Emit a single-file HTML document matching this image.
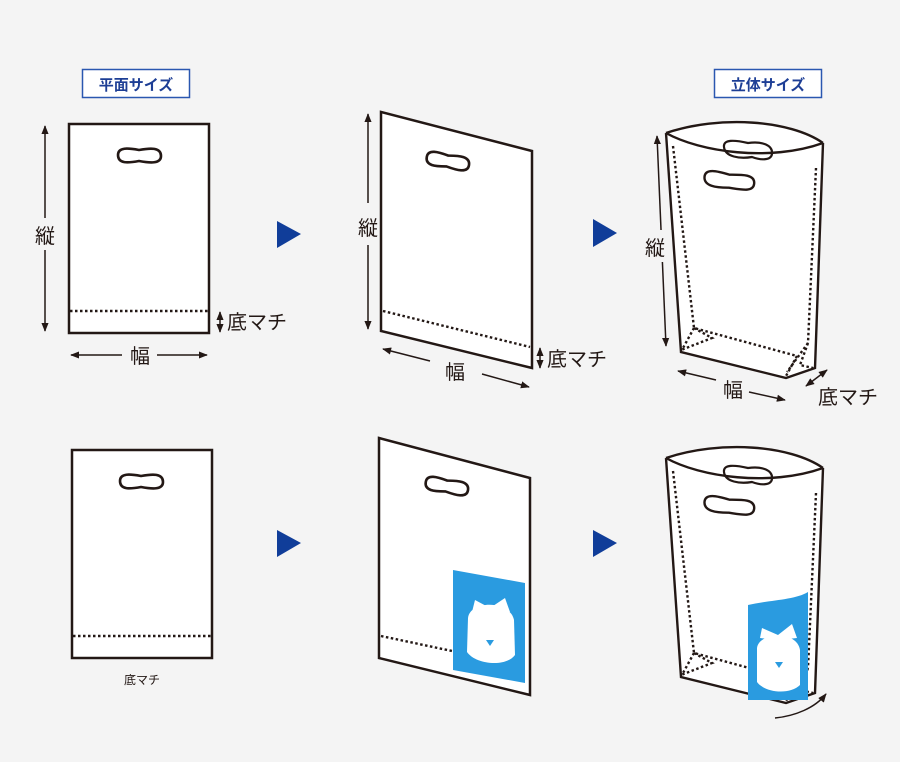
<!DOCTYPE html>
<html><head><meta charset="utf-8"><style>
html,body{margin:0;padding:0;background:#f4f4f4;}
svg{display:block}
text{font-family:"Liberation Sans","Noto Sans CJK JP",sans-serif;fill:#231815}
</style></head><body>
<svg width="900" height="762" viewBox="0 0 900 762" xmlns="http://www.w3.org/2000/svg">
<defs>
<marker id="ah" viewBox="0 0 10 10" refX="9" refY="5" markerWidth="6" markerHeight="6" orient="auto-start-reverse"><path d="M0,1 L10,5 L0,9 z" fill="#231815"/></marker>
<g id="handle"><path d="M0,7 C0,-1 10,0 21,2 C32,0 43,-1 43,8 C43,16 32,15 21,13 C10,15 0,16 0,7 z" fill="#fff" stroke="#231815" stroke-width="2.6"/></g>
</defs>
<rect width="900" height="762" fill="#f4f4f4"/>

<rect x="82.5" y="69.5" width="107" height="28" fill="#fff" stroke="#2a57b0" stroke-width="1.5"/>
<text x="136" y="90" font-size="15" font-weight="bold" text-anchor="middle" style="fill:#1d3e95">平面サイズ</text>
<rect x="714.5" y="69.5" width="107" height="28" fill="#fff" stroke="#2a57b0" stroke-width="1.5"/>
<text x="768" y="90" font-size="15" font-weight="bold" text-anchor="middle" style="fill:#1d3e95">立体サイズ</text>

<g fill="#103d99">
<path d="M277,221 L301,234 L277,248 z"/><path d="M593,219 L617,233 L593,247 z"/>
<path d="M277,530 L301,543 L277,557 z"/><path d="M593,530 L617,543 L593,557 z"/>
</g>

<rect x="69" y="124" width="140" height="209" fill="#fff" stroke="#231815" stroke-width="2.5"/>
<line x1="70" y1="311" x2="208" y2="311" stroke="#231815" stroke-width="2.4" stroke-dasharray="2.5,2.5"/>
<use href="#handle" x="118" y="148"/>
<line x1="45" y1="126" x2="45" y2="218" stroke="#231815" stroke-width="1.5" marker-start="url(#ah)"/>
<line x1="45" y1="250" x2="45" y2="331" stroke="#231815" stroke-width="1.5" marker-end="url(#ah)"/>
<text x="45" y="243" font-size="20" text-anchor="middle">縦</text>
<line x1="71" y1="355" x2="122" y2="355" stroke="#231815" stroke-width="1.5" marker-start="url(#ah)"/>
<line x1="157" y1="355" x2="207" y2="355" stroke="#231815" stroke-width="1.5" marker-end="url(#ah)"/>
<text x="140" y="363" font-size="20" text-anchor="middle">幅</text>
<line x1="220" y1="312" x2="220" y2="332" stroke="#231815" stroke-width="1.5" marker-start="url(#ah)" marker-end="url(#ah)"/>
<text x="227" y="329" font-size="20">底マチ</text>

<path d="M381,112 L532,151 L532,368 L381,331 z" fill="#fff" stroke="#231815" stroke-width="2.5"/>
<line x1="383" y1="311" x2="530" y2="347" stroke="#231815" stroke-width="2.4" stroke-dasharray="2.5,2.5"/>
<g transform="translate(428,150) rotate(10)"><use href="#handle"/></g>
<line x1="368" y1="114" x2="368" y2="203" stroke="#231815" stroke-width="1.5" marker-start="url(#ah)"/>
<line x1="368" y1="245" x2="368" y2="329" stroke="#231815" stroke-width="1.5" marker-end="url(#ah)"/>
<text x="368" y="235" font-size="20" text-anchor="middle">縦</text>
<line x1="383" y1="349" x2="430" y2="361" stroke="#231815" stroke-width="1.5" marker-start="url(#ah)"/>
<line x1="482" y1="374" x2="529" y2="387" stroke="#231815" stroke-width="1.5" marker-end="url(#ah)"/>
<text x="455" y="379" font-size="20" text-anchor="middle">幅</text>
<line x1="540" y1="348" x2="540" y2="368" stroke="#231815" stroke-width="1.5" marker-start="url(#ah)" marker-end="url(#ah)"/>
<text x="547" y="366" font-size="20">底マチ</text>

<g id="bag">
<path d="M666,133 C720,115 790,120 823,143 L815,368 L786,378 L681,352 z" fill="#fff"/>
<path d="M666,133 C720,115 790,120 823,143" fill="none" stroke="#231815" stroke-width="2.4"/>
<path d="M666,133 C700,152 770,162 823,143" fill="none" stroke="#231815" stroke-width="2.4"/>
<path d="M724,147 C723,139 735,140 748,143 C762,141 773,145 772,154 C771,161 760,160 752,157 C740,159 725,157 724,147 z" fill="none" stroke="#231815" stroke-width="2.2"/>
<path d="M666,133 L681,352 L786,378 L815,368 L823,143" fill="none" stroke="#231815" stroke-width="2.4"/>
<g transform="translate(705,170) rotate(4)"><path d="M0,7 C0,-2 12,0 25,3 C38,2 50,1 50,10 C50,19 38,17 25,16 C12,17 0,16 0,7 z" fill="#fff" stroke="#231815" stroke-width="2.4"/></g>
<g fill="none" stroke="#231815" stroke-width="2.4" stroke-dasharray="2.5,2.5">
<path d="M673,146 L694,328 L797,356"/>
<path d="M816,168 L808,343"/>
<path d="M694,328 L683,348"/>
<path d="M694,328 L712,338 L681,350"/>
<path d="M808,343 L787,372"/>
<path d="M797,356 L786,376"/>
<path d="M808,343 L800,365 L813,368"/>
</g>
</g>
<line x1="657" y1="136" x2="666" y2="346" stroke="#231815" stroke-width="1.5" marker-start="url(#ah)" marker-end="url(#ah)"/>
<rect x="644" y="230" width="22" height="32" fill="#f4f4f4"/>
<text x="655" y="255" font-size="20" text-anchor="middle">縦</text>
<line x1="678" y1="371" x2="716" y2="380" stroke="#231815" stroke-width="1.5" marker-start="url(#ah)"/>
<line x1="749" y1="392" x2="785" y2="400" stroke="#231815" stroke-width="1.5" marker-end="url(#ah)"/>
<text x="733" y="397" font-size="20" text-anchor="middle">幅</text>
<line x1="806" y1="386" x2="827" y2="370" stroke="#231815" stroke-width="1.5" marker-start="url(#ah)" marker-end="url(#ah)"/>
<text x="818" y="404" font-size="20">底マチ</text>

<rect x="72" y="450" width="140" height="208" fill="#fff" stroke="#231815" stroke-width="2.5"/>
<line x1="73" y1="636" x2="211" y2="636" stroke="#231815" stroke-width="2.4" stroke-dasharray="2.5,2.5"/>
<use href="#handle" x="120" y="474"/>
<text x="142" y="684" font-size="12" text-anchor="middle">底マチ</text>

<path d="M379,438 L530,478 L530,695 L379,658 z" fill="#fff" stroke="#231815" stroke-width="2.5"/>
<line x1="381" y1="636" x2="452" y2="651" stroke="#231815" stroke-width="2.4" stroke-dasharray="2.5,2.5"/>
<g transform="translate(427,475) rotate(10)"><use href="#handle"/></g>
<path d="M453,570 L525,583 L525,683 L453,670 z" fill="#2a9be0"/>
<g fill="#fff"><path d="M468,618 C470,600 510,600 514,620 L515,655 C505,668 475,664 467,652 z"/><path d="M475,600 L490,608 L505,598 L510,612 L492,614 L472,612 z"/></g>
<g fill="#2a9be0"><path d="M486,640 L494,640 L490,646 z"/></g>

<use href="#bag" transform="translate(0,325)"/>
<path d="M748,605 C770,600 795,600 808,592 L808,700 L748,700 z" fill="#2a9be0"/>
<g fill="#fff"><path d="M757,648 C759,632 797,630 800,650 L800,685 C790,695 765,693 757,682 z"/><path d="M762,628 L778,635 L792,624 L797,638 L778,640 L760,638 z"/></g>
<g fill="#2a9be0"><path d="M775,662 L783,662 L779,668 z"/></g>
<path d="M775,718 C795,716 815,708 826,694" fill="none" stroke="#231815" stroke-width="1.5" marker-end="url(#ah)"/>
</svg>
</body></html>
